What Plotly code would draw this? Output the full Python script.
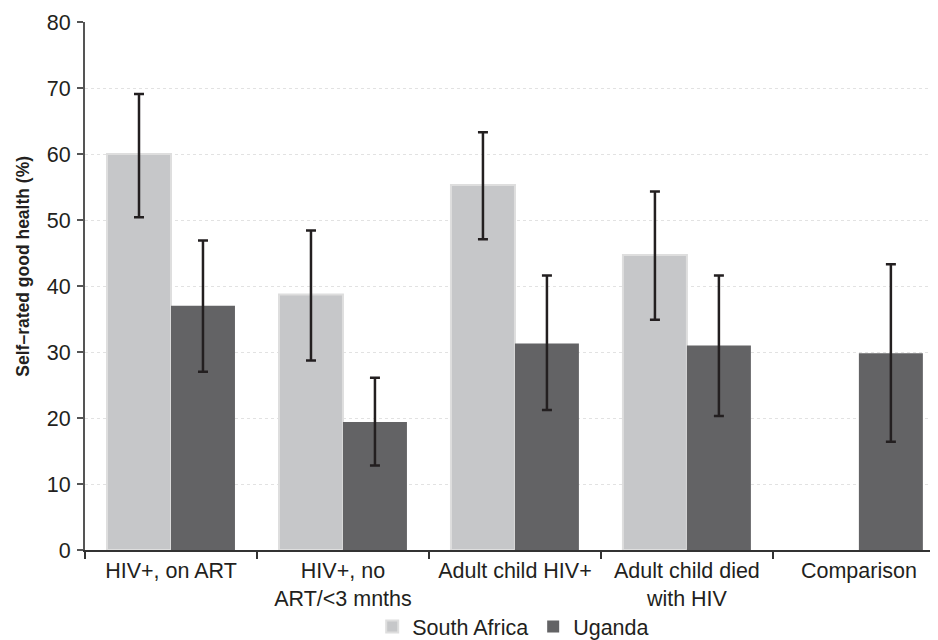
import plotly.graph_objects as go

categories = ["HIV+, on ART", "HIV+, no<br>ART/<3 mnths", "Adult child HIV+", "Adult child died<br>with HIV", "Comparison"]
sa_values = [60.0, 38.7, 55.3, 44.7, None]
sa_low = [50.4, 28.7, 47.1, 34.9, None]
sa_high = [69.1, 48.4, 63.3, 54.3, None]
ug_values = [37.0, 19.4, 31.3, 31.0, 29.8]
ug_low = [27.0, 12.8, 21.2, 20.3, 16.4]
ug_high = [46.9, 26.1, 41.6, 41.6, 43.3]
y_ticks = [0, 10, 20, 30, 40, 50, 60, 70, 80]

def err_plus(v, h):
    return [None if a is None else b - a for a, b in zip(v, h)]

def err_minus(v, l):
    return [None if a is None else a - b for a, b in zip(v, l)]

ebar = dict(color="#231f20", thickness=2.5, width=5)

fig = go.Figure()
fig.add_trace(go.Bar(
    name="South Africa", x=categories, y=sa_values,
    marker=dict(color="#c6c7c9", line=dict(color="#dedede", width=2)),
    error_y=dict(type="data", symmetric=False, array=err_plus(sa_values, sa_high),
                 arrayminus=err_minus(sa_values, sa_low), **ebar),
))
fig.add_trace(go.Bar(
    name="Uganda", x=categories, y=ug_values,
    marker=dict(color="#636365", line=dict(width=0)),
    error_y=dict(type="data", symmetric=False, array=err_plus(ug_values, ug_high),
                 arrayminus=err_minus(ug_values, ug_low), **ebar),
))

fig.update_layout(
    width=938, height=640,
    margin=dict(l=77, r=8, t=14, b=98, autoexpand=False),
    paper_bgcolor="white", plot_bgcolor="white",
    barmode="group", bargap=0.256, bargroupgap=0,
    font=dict(family="Liberation Sans, Arial, sans-serif", size=21.5, color="#231f20"),
    showlegend=True,
    legend=dict(orientation="h", x=0.502, xanchor="center", y=-0.145, yanchor="middle",
                font=dict(size=21.5), itemwidth=30, traceorder="normal"),
    xaxis=dict(
        range=[-0.5, 4.46], showline=True, linecolor="#333333", linewidth=1.5,
        ticks="outside", tickson="boundaries", ticklen=7, tickcolor="#333333",
        tickwidth=1.5, showgrid=False, zeroline=False, automargin=False,
    ),
    yaxis=dict(
        range=[0, 80], tickvals=y_ticks, showline=True, linecolor="#555555", linewidth=2,
        ticks="outside", ticklen=6, tickcolor="#555555", tickwidth=1.5,
        showgrid=True, gridcolor="#e2e2e2", gridwidth=1, griddash="dot",
        zeroline=False, ticklabelstandoff=2, automargin=False,
    ),
    annotations=[dict(
        text="<b>Self–rated good health (%)</b>", textangle=-90,
        xref="paper", yref="paper", x=-0.073, y=0.538, xanchor="center", yanchor="middle",
        showarrow=False, font=dict(size=17.5, color="#231f20"),
    )],
)

fig.write_html("out.html")
